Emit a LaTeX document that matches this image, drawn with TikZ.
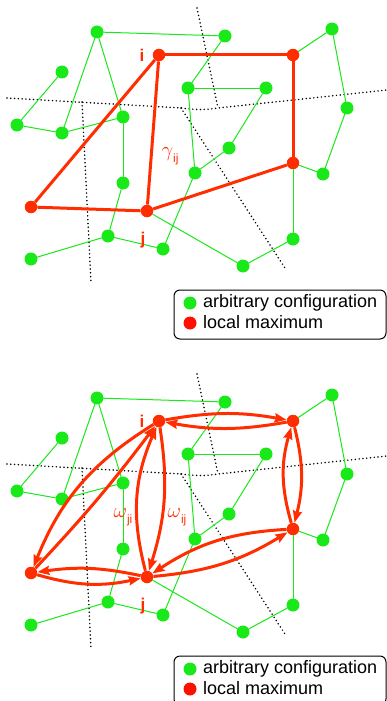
\documentclass[tikz,border=0pt]{standalone}
\usepackage{fontspec}
\setmainfont{Liberation Sans}
\usetikzlibrary{arrows.meta}

\definecolor{confgreen}{RGB}{25,232,25}
\definecolor{maxred}{RGB}{255,45,0}
\definecolor{keyred}{RGB}{255,15,0}

% one copy of the configuration network, with its key
\newcommand{\drawnet}{%
	% borders between the basins
	\draw [border] (7,98)-- (182,108) .. controls (195,110) and (205,110) .. (218,108)-- (387,90);
	\draw [border] (197,8)-- (218,108);
	\draw [border] (82,102)-- (91,283);
	\draw [border] (181,108)-- (285,268);
	% configurations
	\node [conf] (g1) at (97,32) {};
	\node [conf] (g2) at (225,36) {};
	\node [conf] (g3) at (332,29) {};
	\node [conf] (g4) at (62,72) {};
	\node [conf] (g5) at (188,88) {};
	\node [conf] (g6) at (266,88) {};
	\node [conf] (g7) at (347,108) {};
	\node [conf] (g8) at (17,125) {};
	\node [conf] (g9) at (62,133) {};
	\node [conf] (g10) at (123,117) {};
	\node [conf] (g11) at (229,148) {};
	\node [conf] (g12) at (195,173) {};
	\node [conf] (g13) at (323,174) {};
	\node [conf] (g14) at (123,183) {};
	\node [conf] (g15) at (108,236) {};
	\node [conf] (g16) at (163,249) {};
	\node [conf] (g17) at (31,259) {};
	\node [conf] (g18) at (293,239) {};
	\node [conf] (g19) at (243,266) {};
	% local maxima
	\node [lmax] (mi) at (159,55) {};
	\node [lmax] (ma) at (293,55) {};
	\node [lmax] (mb) at (293,163) {};
	\node [lmax] (mj) at (147,211) {};
	\node [lmax] (mc) at (31,207) {};
	% neighbour links
	\draw [link] (g1)-- (g2);
	\draw [link] (g1)-- (g9);
	\draw [link] (g1)-- (g10);
	\draw [link] (g4)-- (g8);
	\draw [link] (g8)-- (g9);
	\draw [link] (g9)-- (g10);
	\draw [link] (g10)-- (g14);
	\draw [link] (g14)-- (g15);
	\draw [link] (g15)-- (g17);
	\draw [link] (g15)-- (g16);
	\draw [link] (g16)-- (g12);
	\draw [link] (g12)-- (g5);
	\draw [link] (g5)-- (g6);
	\draw [link] (g5)-- (g2);
	\draw [link] (g6)-- (g11);
	\draw [link] (g11)-- (g12);
	\draw [link] (g3)-- (ma);
	\draw [link] (g3)-- (g7);
	\draw [link] (g7)-- (g13);
	\draw [link] (g13)-- (mb);
	\draw [link] (mb)-- (g18);
	\draw [link] (g18)-- (g19);
	\draw [link] (g19)-- (mj);
	\node [lbl] (li) at (142,55) {i};
	\node [lbl] (lj) at (143,240) {j};
	% key
	\draw [line width=1pt,rounded corners=6pt] (174,290) rectangle (386,339);
	\node [conf] (kc) at (190,303) {};
	\node [key] (kct) at (203,302.5) {arbitrary configuration};
	\node [conf,fill=keyred] (km) at (190,323) {};
	\node [key] (kmt) at (203,322.5) {local maximum};
}

\begin{document}
\begin{tikzpicture}[x=1pt,y=-1pt,line cap=round,line join=round,
	conf/.style={circle,fill=confgreen,inner sep=0pt,minimum size=13pt},
	lmax/.style={circle,fill=maxred,inner sep=0pt,minimum size=12.5pt},
	link/.style={confgreen,line width=1pt},
	redlink/.style={maxred,line width=3pt,line cap=butt},
	flow/.style={maxred,line width=3pt,line cap=butt,-{Stealth[length=12pt,width=9pt,inset=1.5pt]}},
	border/.style={line width=1.7pt,dash pattern=on 0pt off 3.8pt},
	lbl/.style={maxred,inner sep=0pt,font=\fontsize{17}{17}\selectfont\bfseries},
	key/.style={anchor=west,inner sep=0pt,font=\fontsize{18}{18}\selectfont}]
	\useasboundingbox (0,0) rectangle (387,701);
	\clip (0,0) rectangle (387,701);
	% upper panel: the path between the two maxima
	\drawnet
	\draw [redlink] (mi)-- (ma);
	\draw [redlink] (ma)-- (mb);
	\draw [redlink] (mb)-- (mj);
	\draw [redlink] (mj)-- (mc);
	\draw [redlink] (mc)-- (mi);
	\draw [redlink] (mi)-- (mj);
	\node [maxred,inner sep=0pt] (gij) at (170,156) {\fontsize{22}{22}\selectfont$\gamma$\raisebox{-6pt}{\fontsize{12}{12}\selectfont ij}};
	% lower panel: weighted jumps both ways
	\begin{scope}[shift={(0,366)}]
		\drawnet
		\draw [flow] (mi) to[bend left=10] (ma);
		\draw [flow] (ma) to[bend left=10] (mi);
		\draw [flow] (mb) to[bend left=16] (ma);
		\draw [flow] (ma) to[bend left=14] (mb);
		\draw [flow] (mb) to[bend right=15] (mj);
		\draw [flow] (mj) to[bend right=13] (mb);
		\draw [flow] (mj) to[bend right=10] (mc);
		\draw [flow] (mc) to[bend right=14] (mj);
		\draw [flow] (mi) to[bend right=18] (mc);
		\draw [flow] (mc) to[bend right=3] (mi);
		\draw [flow] (mi) to[bend left=13] (mj);
		\draw [flow] (mj) to[bend left=19] (mi);
		\node [maxred,inner sep=0pt] (wji) at (123,151) {\fontsize{22}{22}\selectfont$\omega$\raisebox{-6pt}{\fontsize{12}{12}\selectfont ji}};
		\node [maxred,inner sep=0pt] (wij) at (177,151) {\fontsize{22}{22}\selectfont$\omega$\raisebox{-6pt}{\fontsize{12}{12}\selectfont ij}};
	\end{scope}
\end{tikzpicture}
\end{document}
